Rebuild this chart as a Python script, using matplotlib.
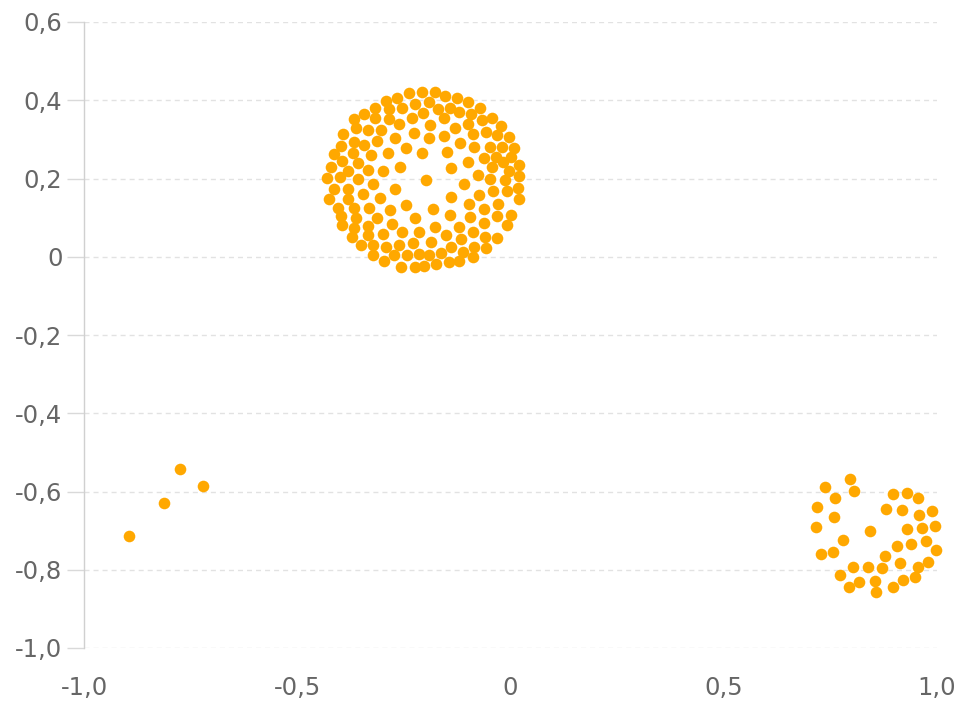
import numpy as np
import matplotlib
matplotlib.use("Agg")
import matplotlib.pyplot as plt
from matplotlib.ticker import FixedLocator, FuncFormatter

# big round cluster around (-0.2, 0.2)
big_x = [
    -0.239, -0.207, -0.266, -0.292, -0.225, -0.318, -0.284, -0.254, -0.343, -0.366,
    -0.317, -0.286, -0.231, -0.261, -0.362, -0.333, -0.304, -0.227, -0.392, -0.270,
    -0.366, -0.312, -0.397, -0.343, -0.246, -0.413, -0.370, -0.327, -0.288, -0.207,
    -0.394, -0.358, -0.421, -0.380, -0.335, -0.300, -0.258, -0.431, -0.399, -0.358,
    -0.323, -0.413, -0.380, -0.270, -0.347, -0.425, -0.382, -0.306, -0.405, -0.366,
    -0.331, -0.282, -0.245, -0.397, -0.362, -0.312, -0.223, -0.394, -0.366, -0.333,
    -0.278, -0.372, -0.335, -0.300, -0.254, -0.214, -0.350, -0.322, -0.292, -0.262,
    -0.229, -0.323, -0.272, -0.243, -0.215, -0.296, -0.257, -0.225,
    -0.178, -0.153, -0.126, -0.100, -0.190, -0.171, -0.143, -0.120, -0.092, -0.071,
    -0.206, -0.066, -0.043, -0.022, -0.155, -0.188, -0.129, -0.100, -0.087, -0.057,
    -0.032, -0.004, -0.192, -0.155, -0.118, -0.085, -0.049, -0.019, 0.009, -0.150,
    -0.063, -0.035, 0.002, -0.100, -0.043, -0.018, 0.021, -0.139, -0.077, -0.004,
    0.020, -0.047,
    -0.197, -0.108, -0.014, -0.040, -0.009, 0.017, -0.139, -0.073, -0.098, -0.061,
    -0.030, 0.019, -0.182, -0.143, -0.095, -0.032, 0.002, -0.178, -0.121, -0.061,
    -0.009, -0.151, -0.088, -0.059, -0.032, -0.186, -0.116, -0.139, -0.085, -0.057,
    -0.190, -0.163, -0.112, -0.088, -0.202, -0.174, -0.145, -0.120,
]
big_y = [
    0.418, 0.421, 0.405, 0.399, 0.390, 0.381, 0.378, 0.379, 0.364, 0.351,
    0.354, 0.351, 0.355, 0.339, 0.328, 0.324, 0.324, 0.317, 0.313, 0.304,
    0.294, 0.296, 0.284, 0.286, 0.277, 0.262, 0.264, 0.260, 0.264, 0.264,
    0.245, 0.239, 0.230, 0.219, 0.222, 0.219, 0.230, 0.201, 0.203, 0.199,
    0.185, 0.173, 0.173, 0.173, 0.160, 0.148, 0.148, 0.151, 0.125, 0.125,
    0.125, 0.119, 0.132, 0.105, 0.100, 0.098, 0.098, 0.081, 0.074, 0.079,
    0.083, 0.051, 0.056, 0.057, 0.064, 0.064, 0.030, 0.030, 0.026, 0.030,
    0.034, 0.004, 0.004, 0.004, 0.006, -0.011, -0.025, -0.025,
    0.422, 0.412, 0.405, 0.396, 0.396, 0.378, 0.381, 0.369, 0.364, 0.381,
    0.367, 0.350, 0.355, 0.335, 0.354, 0.337, 0.330, 0.339, 0.313, 0.318,
    0.311, 0.307, 0.304, 0.309, 0.290, 0.281, 0.281, 0.281, 0.279, 0.268,
    0.253, 0.256, 0.256, 0.241, 0.230, 0.243, 0.235, 0.226, 0.208, 0.219,
    0.206, 0.199,
    0.196, 0.185, 0.196, 0.168, 0.168, 0.175, 0.153, 0.158, 0.134, 0.122,
    0.134, 0.148, 0.122, 0.107, 0.102, 0.105, 0.107, 0.077, 0.077, 0.085,
    0.081, 0.056, 0.062, 0.051, 0.047, 0.038, 0.045, 0.026, 0.026, 0.023,
    0.004, 0.009, 0.011, 0.000, -0.023, -0.019, -0.014, -0.011,
]

# ring-shaped cluster at bottom right
ring_x = [
    0.797, 0.737, 0.805, 0.761, 0.897, 0.930, 0.956, 0.718, 0.880, 0.919,
    0.958, 0.988, 0.758, 0.716, 0.843, 0.929, 0.966, 0.995, 0.780, 0.907,
    0.938, 0.974, 0.729, 0.757, 0.878, 0.998, 0.913, 0.980, 0.802, 0.839,
    0.870, 0.956, 0.772, 0.818, 0.854, 0.921, 0.948, 0.794, 0.857, 0.897,
]
ring_y = [
    -0.569, -0.588, -0.598, -0.617, -0.606, -0.603, -0.617, -0.640, -0.645, -0.647,
    -0.660, -0.649, -0.666, -0.692, -0.700, -0.697, -0.694, -0.688, -0.724, -0.739,
    -0.734, -0.726, -0.760, -0.754, -0.765, -0.750, -0.782, -0.779, -0.792, -0.794,
    -0.796, -0.792, -0.813, -0.831, -0.828, -0.826, -0.819, -0.843, -0.856, -0.845,
]

# a few stray points at bottom left
stray_x = [-0.775, -0.722, -0.812, -0.894]
stray_y = [-0.542, -0.585, -0.630, -0.713]

x_ticks = [-1.0, -0.5, 0.0, 0.5, 1.0]
y_ticks = [0.6, 0.4, 0.2, 0.0, -0.2, -0.4, -0.6, -0.8, -1.0]

DOT = '#ffa800'
GRID = '#e2e2e2'
TEXT = '#666666'


def comma_fmt(v, pos=None):
    if abs(v) < 1e-9:
        return '0'
    return f'{v:.1f}'.replace('.', ',')


plt.rcParams['font.family'] = ['DejaVu Sans']

fig = plt.figure(figsize=(9.59, 7.07), dpi=100)
ax = fig.add_axes([84 / 959, 59 / 707, 853 / 959, 626 / 707])

xs = np.concatenate([big_x, ring_x, stray_x])
ys = np.concatenate([big_y, ring_y, stray_y])
ax.scatter(xs, ys, s=70, color=DOT, linewidths=0, zorder=3, clip_on=False)

ax.set_xlim(-1.0, 1.0)
ax.set_ylim(-1.0, 0.6)

ax.xaxis.set_major_locator(FixedLocator(x_ticks))
ax.yaxis.set_major_locator(FixedLocator(y_ticks))
ax.xaxis.set_major_formatter(FuncFormatter(comma_fmt))
ax.yaxis.set_major_formatter(FuncFormatter(comma_fmt))

for s in ['top', 'right', 'bottom']:
    ax.spines[s].set_visible(False)
ax.spines['left'].set_color('#d0d0d0')
ax.spines['left'].set_linewidth(1)

ax.yaxis.grid(True, color=GRID, linewidth=1, linestyle=(0, (3.6, 2.9)))
ax.xaxis.grid(False)
ax.set_axisbelow(True)

ax.tick_params(axis='y', length=12, width=1, color='#d9d9d9', pad=3.5,
               labelsize=17.5, labelcolor=TEXT)
ax.tick_params(axis='x', length=0, pad=20, labelsize=17.5, labelcolor=TEXT)

fig.savefig('out.png', dpi=100)
